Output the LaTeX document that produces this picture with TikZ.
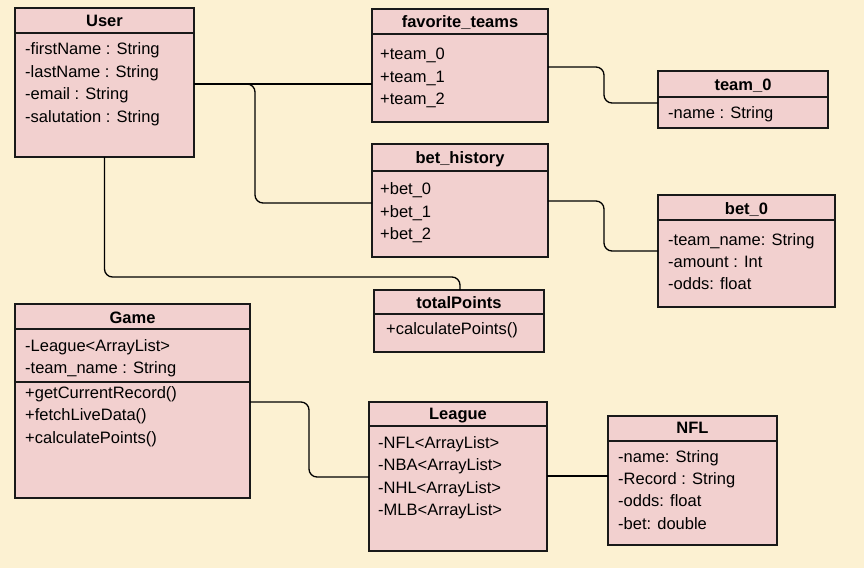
\documentclass[tikz,border=0pt]{standalone}
\usepackage{fontspec}
\setmainfont{Liberation Sans}
\definecolor{bgc}{RGB}{252,241,210}
\definecolor{boxfill}{RGB}{242,208,207}
\definecolor{boxline}{RGB}{25,25,25}
\begin{document}
\begin{tikzpicture}[x=1pt,y=-1pt,
  font=\fontsize{16.5}{19}\selectfont,
  cls/.style={draw=boxline, fill=boxfill, line width=1.3pt, anchor=north west, inner sep=0pt, outer sep=0pt},
  divl/.style={draw=boxline, line width=1.3pt},
  ttl/.style={font=\fontsize{16.5}{19}\selectfont\bfseries, anchor=base, inner sep=0pt},
  itm/.style={anchor=base west, inner sep=0pt},
  conn/.style={draw=black, line width=1.3pt, rounded corners=8pt}]
\fill[bgc] (0,0) rectangle (864,568);
\useasboundingbox (0,0) rectangle (864,568);

% ---- User
\node[cls, minimum width=179pt, minimum height=149pt] (user) at (15,8) {};
\draw[divl] (user.west |- 0,33) -- (user.east |- 0,33);
\node[ttl] (userT) at (104.5,26) {User};
\node[itm] (u1) at (25,54) {-firstName : String};
\node[itm] (u2) at (25,77) {-lastName : String};
\node[itm] (u3) at (25,99) {-email : String};
\node[itm] (u4) at (25,122) {-salutation : String};

% ---- favorite_teams
\node[cls, minimum width=176pt, minimum height=113pt] (fav) at (372,9) {};
\draw[divl] (fav.west |- 0,34) -- (fav.east |- 0,34);
\node[ttl] (favT) at (460,27) {favorite\_teams};
\node[itm] (f1) at (380,59) {+team\_0};
\node[itm] (f2) at (380,82) {+team\_1};
\node[itm] (f3) at (380,104) {+team\_2};

% ---- team_0
\node[cls, minimum width=170pt, minimum height=57pt] (team) at (658,71) {};
\draw[divl] (team.west |- 0,97) -- (team.east |- 0,97);
\node[ttl] (teamT) at (743,90) {team\_0};
\node[itm] (t1) at (668,118) {-name : String};

% ---- bet_history
\node[cls, minimum width=176pt, minimum height=113pt] (hist) at (372,144) {};
\draw[divl] (hist.west |- 0,171) -- (hist.east |- 0,171);
\node[ttl] (histT) at (460,163) {bet\_history};
\node[itm] (h1) at (380,194) {+bet\_0};
\node[itm] (h2) at (380,217) {+bet\_1};
\node[itm] (h3) at (380,239) {+bet\_2};

% ---- bet_0
\node[cls, minimum width=177pt, minimum height=112pt] (bet) at (658,195) {};
\draw[divl] (bet.west |- 0,220) -- (bet.east |- 0,220);
\node[ttl] (betT) at (746.5,214) {bet\_0};
\node[itm] (b1) at (668,245) {-team\_name: String};
\node[itm] (b2) at (668,267) {-amount : Int};
\node[itm] (b3) at (668,289) {-odds: float};

% ---- totalPoints
\node[cls, minimum width=170pt, minimum height=62pt] (tp) at (374,290) {};
\draw[divl] (tp.west |- 0,314) -- (tp.east |- 0,314);
\node[ttl] (tpT) at (459,308) {totalPoints};
\node[itm] (tp1) at (386,334) {+calculatePoints()};

% ---- Game
\node[cls, minimum width=235pt, minimum height=194pt] (game) at (15,304) {};
\draw[divl] (game.west |- 0,329) -- (game.east |- 0,329);
\draw[divl] (game.west |- 0,382) -- (game.east |- 0,382);
\node[ttl] (gameT) at (132.5,323) {Game};
\node[itm] (g1) at (25,351) {-League<ArrayList>};
\node[itm] (g2) at (25,373) {-team\_name : String};
\node[itm] (g3) at (25,398) {+getCurrentRecord()};
\node[itm] (g4) at (25,420) {+fetchLiveData()};
\node[itm] (g5) at (25,443) {+calculatePoints()};

% ---- League
\node[cls, minimum width=178pt, minimum height=149pt] (league) at (369,402) {};
\draw[divl] (league.west |- 0,426) -- (league.east |- 0,426);
\node[ttl] (leagueT) at (458,419) {League};
\node[itm] (l1) at (378,448) {-NFL<ArrayList>};
\node[itm] (l2) at (378,470) {-NBA<ArrayList>};
\node[itm] (l3) at (378,493) {-NHL<ArrayList>};
\node[itm] (l4) at (378,515) {-MLB<ArrayList>};

% ---- NFL
\node[cls, minimum width=169pt, minimum height=129pt] (nfl) at (608,416) {};
\draw[divl] (nfl.west |- 0,441) -- (nfl.east |- 0,441);
\node[ttl] (nflT) at (692.5,433) {NFL};
\node[itm] (n1) at (618,462) {-name: String};
\node[itm] (n2) at (618,484) {-Record : String};
\node[itm] (n3) at (618,506) {-odds: float};
\node[itm] (n4) at (618,529) {-bet: double};

% ---- connectors
\draw[conn] (user.east |- 0,84) -- (fav.west |- 0,84);
\draw[conn] (user.east |- 0,84) -- (255,84) -- (255,203) -- (hist.west |- 0,203);
\draw[conn] (user.south) -- (104.5,277) -- (460,277) -- (tp.north -| 460,0);
\draw[conn] (fav.east |- 0,67) -- (604,67) -- (604,103) -- (team.west |- 0,103);
\draw[conn] (hist.east |- 0,201) -- (604,201) -- (604,251) -- (bet.west |- 0,251);
\draw[conn] (game.east |- 0,402) -- (309,402) -- (309,477) -- (league.west |- 0,477);
\draw[conn] (league.east |- 0,476) -- (nfl.west |- 0,476);
\end{tikzpicture}
\end{document}
